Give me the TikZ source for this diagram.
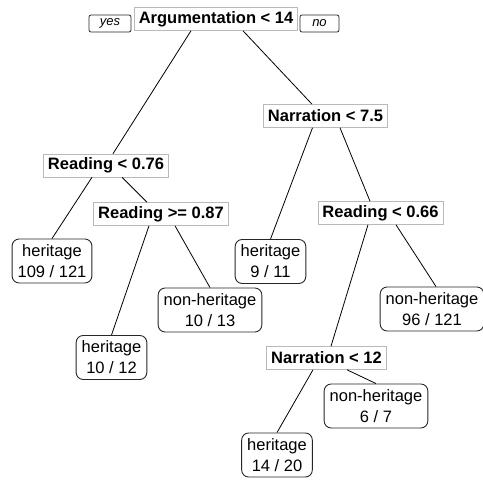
\documentclass[tikz,border=0pt]{standalone}
\usepackage{fontspec}
\setmainfont{Liberation Sans}
\usepackage{tikz}
\usetikzlibrary{calc,positioning}
\tikzset{
    split/.style={rectangle, draw=gray!55, line width=0.6pt, fill=white, inner xsep=4.5pt, inner ysep=2pt, minimum height=23pt, font=\fontsize{16.5}{19.5}\selectfont\bfseries},
    leaf/.style={rectangle, rounded corners=7pt, draw=black!85, line width=0.9pt, fill=white, align=center, inner xsep=5.5pt, inner ysep=3pt, minimum height=44pt, font=\fontsize{16.5}{21}\selectfont},
    tag/.style={rectangle, rounded corners=2pt, draw=black!85, line width=0.8pt, minimum height=17pt, inner sep=1pt, font=\fontsize{13}{15}\selectfont\itshape},
    branch/.style={line width=0.8pt, black},
}
\begin{document}
\begin{tikzpicture}[x=1pt,y=-1pt]
        \useasboundingbox (0,0) rectangle (483,481);

        % Split nodes
        \node[split] (root) at (216,19) {Argumentation < 14};
        \node[tag,minimum width=42pt] (yes) at (110,23.5) {yes};
        \node[tag,minimum width=39pt] (no) at (319.5,23.5) {no};
        \node[split] (nar1) at (325.5,116) {Narration < 7.5};
        \node[split] (rd1) at (106,165.5) {Reading < 0.76};
        \node[split] (rd2) at (161,214) {Reading >= 0.87};
        \node[split] (rd3) at (380.5,213) {Reading < 0.66};
        \node[split] (nar2) at (326.5,358) {Narration < 12};

        % Leaves
        \node[leaf] (lf1) at (52,261) {heritage\\109 / 121};
        \node[leaf] (lf2) at (111.5,357.5) {heritage\\10 / 12};
        \node[leaf] (lf3) at (210,310) {non-heritage\\10 / 13};
        \node[leaf] (lf4) at (270.5,261.5) {heritage\\9 / 11};
        \node[leaf] (lf5) at (432,309) {non-heritage\\96 / 121};
        \node[leaf] (lf6) at (376,406) {non-heritage\\6 / 7};
        \node[leaf] (lf7) at (277,455) {heritage\\14 / 20};

        % Branches
        \draw[branch] ([xshift=-25pt]root.south) -- ([xshift=7pt]rd1.north);
        \draw[branch] ([xshift=27pt]root.south) -- ([xshift=-13.5pt]nar1.north);
        \draw[branch] ([xshift=-14pt]rd1.south) -- (lf1.north);
        \draw[branch] ([xshift=16pt]rd1.south) -- ([xshift=-14pt]rd2.north);
        \draw[branch] ([xshift=-12pt]rd2.south) -- (lf2.north);
        \draw[branch] ([xshift=14pt]rd2.south) -- (lf3.north);
        \draw[branch] ([xshift=-13pt]nar1.south) -- (lf4.north);
        \draw[branch] ([xshift=14.5pt]nar1.south) -- ([xshift=-10.5pt]rd3.north);
        \draw[branch] ([xshift=-12.5pt]rd3.south) -- ([xshift=4.5pt]nar2.north);
        \draw[branch] ([xshift=15.5pt]rd3.south) -- ([xshift=4pt]lf5.north);
        \draw[branch] ([xshift=-13.5pt]nar2.south) -- (lf7.north);
        \draw[branch] ([xshift=20.5pt]nar2.south) -- (lf6.north);

    \end{tikzpicture}
\end{document}
